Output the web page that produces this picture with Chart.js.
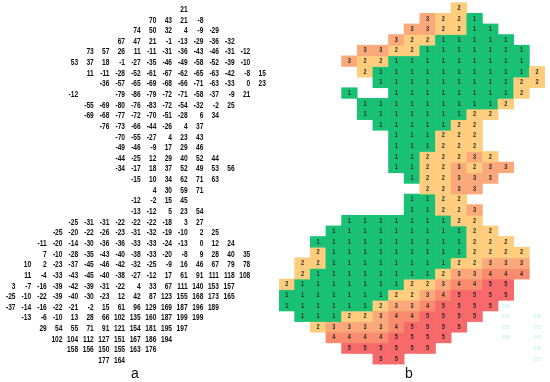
<!DOCTYPE html>
<html>
<head>
<meta charset="utf-8">
<script src="https://cdn.jsdelivr.net/npm/chart.js@4.4.1/dist/chart.umd.min.js"></script>
<style>
  html, body { margin: 0; padding: 0; background: #fff; width: 550px; height: 382px; overflow: hidden; }
  #ca { position: absolute; left: 0; top: 0; }
  #cb { position: absolute; left: 279px; top: 0; }
  .lab { position: absolute; top: 365px; width: 30px; margin-left: -15px; text-align: center;
         font: 14px "Liberation Sans", Arial, sans-serif; color: #111; }
</style>
</head>
<body>
<canvas id="ca" width="275" height="382"></canvas>
<canvas id="cb" width="266" height="382"></canvas>
<div class="lab" style="left:135px">a</div>
<div class="lab" style="left:409px">b</div>
<script>
// ---------- data ----------
// first grid column of each row (0-based)
const rowStart = [11, 9, 8, 7, 5, 4, 5, 6, 4, 5, 5, 6, 7, 7, 7, 7, 8, 9, 8, 8,
                  4, 3, 2, 2, 1, 1, 0, 0, 0, 1, 2, 3, 4, 6];
// values of each row (null = empty cell)
const row01 = [21];
const row02 = [70, 43, 21, -8];
const row03 = [74, 50, 32, 4, -9, -29];
const row04 = [67, 47, 21, -1, -13, -29, -36, -32];
const row05 = [73, 57, 26, 11, -11, -31, -36, -43, -46, -31, -12];
const row06 = [53, 37, 18, -1, -27, -35, -46, -49, -58, -52, -39, -10];
const row07 = [11, -11, -28, -52, -61, -67, -62, -65, -63, -42, -8, 15];
const row08 = [-36, -57, -65, -69, -68, -66, -71, -63, -33, 0, 23];
const row09 = [-12, null, null, -79, -86, -79, -72, -71, -58, -37, -9, 21];
const row10 = [-55, -69, -80, -76, -83, -72, -54, -32, -2, 25];
const row11 = [-69, -68, -77, -72, -70, -51, -28, 6, 34];
const row12 = [-76, -73, -66, -44, -26, 4, 37];
const row13 = [-70, -55, -27, 4, 23, 43];
const row14 = [-49, -46, -9, 17, 29, 46];
const row15 = [-44, -25, 12, 29, 40, 52, 44];
const row16 = [-34, -17, 18, 37, 52, 49, 53, 56];
const row17 = [-15, 10, 34, 62, 71, 63];
const row18 = [4, 30, 59, 71];
const row19 = [-12, -2, 15, 45];
const row20 = [-13, -12, 5, 23, 54];
const row21 = [-25, -31, -31, -22, -22, -22, -18, 3, 27];
const row22 = [-25, -20, -22, -26, -23, -31, -32, -19, -10, 2, 25];
const row23 = [-11, -20, -14, -30, -36, -36, -33, -33, -24, -13, 0, 12, 24];
const row24 = [7, -10, -28, -35, -43, -40, -38, -33, -20, -8, 9, 28, 40, 35];
const row25 = [10, 2, -23, -37, -45, -46, -42, -32, -25, -9, 16, 46, 67, 79, 78];
const row26 = [11, -4, -33, -43, -45, -40, -38, -27, -12, 17, 61, 91, 111, 118, 108];
const row27 = [3, -7, -16, -39, -42, -39, -31, -22, 4, 33, 67, 111, 140, 153, 157];
const row28 = [-25, -10, -22, -39, -40, -30, -23, 12, 42, 87, 123, 155, 168, 173, 165];
const row29 = [-37, -14, -16, -22, -21, -2, 15, 61, 96, 129, 169, 187, 196, 189];
const row30 = [-13, -6, -10, 13, 28, 66, 102, 135, 160, 187, 199, 199];
const row31 = [29, 54, 55, 71, 91, 121, 154, 181, 195, 197];
const row32 = [102, 104, 112, 127, 151, 167, 186, 194];
const row33 = [158, 156, 150, 155, 163, 176];
const row34 = [177, 164];
const rows = [row01, row02, row03, row04, row05, row06, row07, row08, row09, row10,
              row11, row12, row13, row14, row15, row16, row17, row18, row19, row20,
              row21, row22, row23, row24, row25, row26, row27, row28, row29, row30,
              row31, row32, row33, row34];
const columns = ['0','1','2','3','4','5','6','7','8','9','10','11','12','13','14','15','16'];
// class limits: <0 ->1, <50 ->2, <100 ->3, <150 ->4, else 5
const classBreaks = [0, 50, 100, 150];
const classColors = ['#19c174', '#fecd7e', '#fba97a', '#f98b6e', '#f8696b'];
// faint leftover cell texts in panel b: [column, row]
const ghostCells = [[14, 28], [14, 29], [14, 30], [14, 31],
                    [16, 29], [16, 30], [16, 31], [16, 32], [16, 33]];
const ghostText = 'ee';

function classOf(v) {
  let k = 0;
  while (k < classBreaks.length && v >= classBreaks[k]) k++;
  return k + 1;
}

// narrow text helper (emulates a condensed bold face)
function narrowText(ctx, t, x, y, sx) {
  ctx.save();
  ctx.translate(x, y);
  ctx.scale(sx, 1);
  ctx.fillText(t, 0, 0);
  ctx.restore();
}

// ---------- panel a: numbers ----------
const pts = [];
rows.forEach((r, i) => r.forEach((v, j) => {
  if (v !== null) pts.push({ x: rowStart[i] + j, y: i, v: v });
}));

const numLabels = {
  id: 'numLabels',
  afterDatasetsDraw(chart) {
    const ctx = chart.ctx;
    const meta = chart.getDatasetMeta(0);
    const data = chart.data.datasets[0].data;
    ctx.save();
    ctx.fillStyle = '#0e0e0e';
    ctx.font = 'bold 8.6px "Liberation Sans", Arial, sans-serif';
    ctx.textAlign = 'right';
    ctx.textBaseline = 'middle';
    meta.data.forEach((el, k) => narrowText(ctx, String(data[k].v), el.x, el.y, 0.77));
    ctx.restore();
  }
};

new Chart(document.getElementById('ca'), {
  type: 'scatter',
  data: { datasets: [{ data: pts, pointRadius: 0, pointHoverRadius: 0 }] },
  options: {
    responsive: false, animation: false, events: [],
    layout: { padding: 0 },
    plugins: { legend: { display: false }, tooltip: { enabled: false } },
    scales: {
      x: { type: 'linear', display: false, min: -0.9904, max: 16.581 },
      y: { type: 'linear', display: false, reverse: true, min: -0.8929, max: 35.009 }
    }
  },
  plugins: [numLabels]
});

// ---------- panel b: classes ----------
const datasets = rows.map((r, i) => {
  const data = columns.map(() => null);
  const cls = columns.map(() => null);
  r.forEach((v, j) => {
    if (v !== null) { data[rowStart[i] + j] = [i - 0.5, i + 0.5]; cls[rowStart[i] + j] = classOf(v); }
  });
  return {
    data: data, cls: cls,
    backgroundColor: cls.map(c => c ? classColors[c - 1] : 'rgba(0,0,0,0)'),
    borderWidth: 0, grouped: false, barPercentage: 1, categoryPercentage: 1
  };
});

const clsLabels = {
  id: 'clsLabels',
  afterDatasetsDraw(chart) {
    const ctx = chart.ctx;
    ctx.save();
    ctx.font = 'bold 7px "Liberation Sans", Arial, sans-serif';
    ctx.textAlign = 'center';
    ctx.textBaseline = 'middle';
    ctx.fillStyle = '#2a2a2a';
    chart.data.datasets.forEach((ds, di) => {
      const meta = chart.getDatasetMeta(di);
      meta.data.forEach((el, k) => {
        if (ds.data[k] === null) return;
        narrowText(ctx, String(ds.cls[k]), el.x, (el.y + el.base) / 2, 0.8);
      });
    });
    ctx.fillStyle = '#c2eeee';
    ctx.font = '7px "Liberation Sans", Arial, sans-serif';
    const xs = chart.scales.x, ys = chart.scales.y;
    ghostCells.forEach(([c, r]) => ctx.fillText(ghostText, xs.getPixelForValue(c), ys.getPixelForValue(r)));
    ctx.restore();
  }
};

new Chart(document.getElementById('cb'), {
  type: 'bar',
  data: { labels: columns, datasets: datasets },
  options: {
    responsive: false, animation: false, events: [],
    layout: { padding: 0 },
    plugins: { legend: { display: false }, tooltip: { enabled: false } },
    scales: {
      x: { type: 'category', display: false, offset: true },
      y: { type: 'linear', display: false, reverse: true, min: -0.7526, max: 35.183 }
    }
  },
  plugins: [clsLabels]
});
</script>
</body>
</html>
